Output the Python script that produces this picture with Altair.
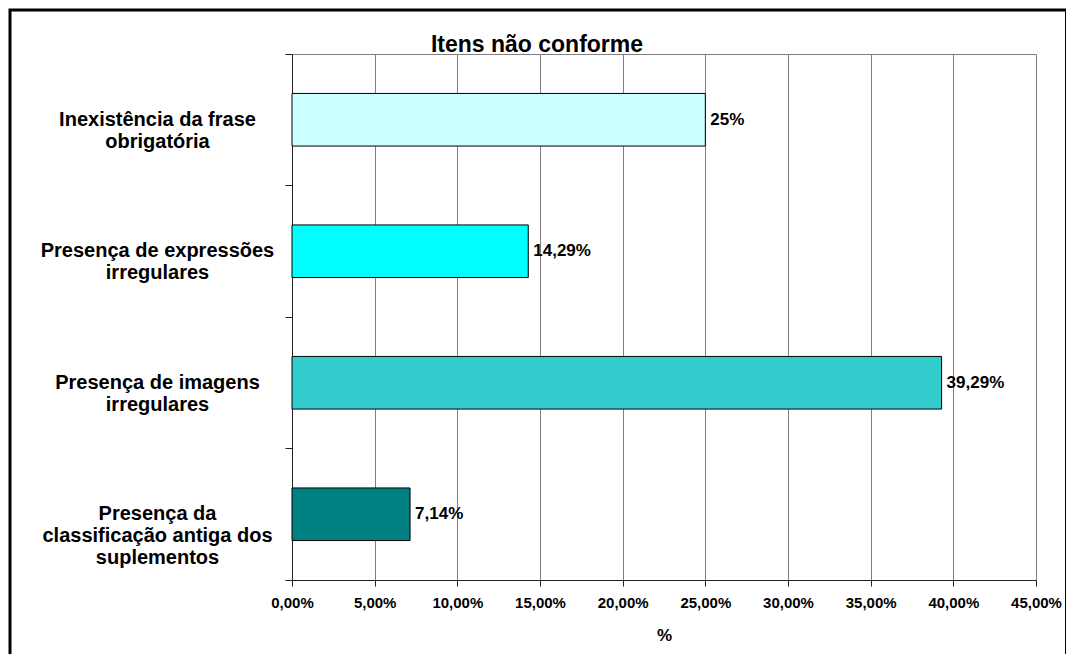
import altair as alt
import pandas as pd

categories = [
    "Inexistência da frase\nobrigatória",
    "Presença de expressões\nirregulares",
    "Presença de imagens\nirregulares",
    "Presença da\nclassificação antiga dos\nsuplementos",
]
values = [25.0, 14.29, 39.29, 7.14]
value_labels = ["25%", "14,29%", "39,29%", "7,14%"]
colors = ["#CCFFFF", "#00FFFF", "#33CCCC", "#008080"]
tick_values = [0, 5, 10, 15, 20, 25, 30, 35, 40, 45]

FONT = "Liberation Sans"

df = pd.DataFrame({"cat": categories, "val": values, "lab": value_labels})

y_enc = alt.Y(
    "cat:N",
    sort=categories,
    scale=alt.Scale(paddingInner=0, paddingOuter=0),
    axis=alt.Axis(
        title=None,
        labelExpr="split(datum.label, '\\n')",
        labelAlign="center",
        labelBaseline="middle",
        labelPadding=128,
        labelFontSize=20,
        labelLineHeight=22,
        labelFontWeight="bold",
        labelFont=FONT,
        labelColor="black",
        labelLimit=0,
        ticks=True,
        tickSize=7,
        tickColor="#222222",
        bandPosition=1,
        tickExtra=True,
        domainColor="#222222",
        grid=False,
    ),
)

x_enc = alt.X(
    "val:Q",
    scale=alt.Scale(domain=[0, 45], nice=False),
    axis=alt.Axis(
        title="%",
        titleFontSize=17,
        titleFontWeight="bold",
        titleFont=FONT,
        titleColor="black",
        titlePadding=17,
        values=tick_values,
        labelExpr="replace(format(datum.value, '.2f'), '.', ',') + '%'",
        labelFontSize=15,
        labelFontWeight="bold",
        labelFont=FONT,
        labelColor="black",
        labelPadding=9,
        labelFlush=False,
        tickSize=6,
        tickColor="#222222",
        domainColor="#222222",
        grid=True,
        gridColor="#808080",
    ),
)

bars = alt.Chart(df).mark_bar(
    height=alt.RelativeBandSize(0.4), stroke="black", strokeWidth=1
).encode(
    x=x_enc,
    y=y_enc,
    color=alt.Color("cat:N", scale=alt.Scale(domain=categories, range=colors), legend=None),
)

text = alt.Chart(df).mark_text(
    align="left", baseline="middle", dx=5, fontSize=17, fontWeight="bold", font=FONT, color="black"
).encode(
    x=alt.X("val:Q"),
    y=alt.Y("cat:N", sort=categories),
    text="lab:N",
)

frame = alt.Chart(pd.DataFrame({"k": [0]})).mark_rect(
    filled=False, stroke="black", strokeWidth=3
).encode(
    x=alt.value(-282),
    x2=alt.value(774.5),
    y=alt.value(-44),
    y2=alt.value(620),
)

chart = alt.layer(frame, bars, text).properties(
    width=744,
    height=526,
    padding={"left": 292, "top": 54, "right": 30, "bottom": 74},
    autosize=alt.AutoSizeParams(type="none"),
    title=alt.Title(
        "Itens não conforme",
        fontSize=23,
        fontWeight="bold",
        font=FONT,
        color="black",
        anchor="middle",
        dx=-127,
        offset=-66,
        baseline="alphabetic",
    ),
).configure_view(stroke="#808080", strokeWidth=1)

chart.save("out.html", embed_options={"renderer": "svg", "actions": False})
